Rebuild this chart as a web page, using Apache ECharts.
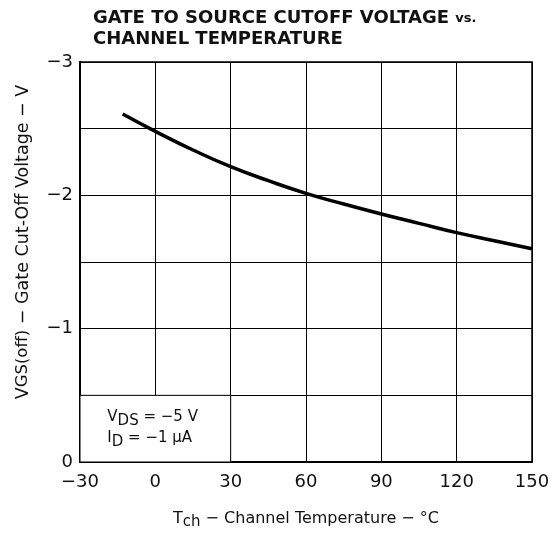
<!DOCTYPE html>
<html lang="en">
  <head>
    <meta charset="UTF-8" />
    <title>Gate to Source Cutoff Voltage vs. Channel Temperature</title>
    <script src="https://cdn.jsdelivr.net/npm/echarts@6/dist/echarts.min.js"></script>
    <style>
      html, body { margin: 0; padding: 0; background: #fff; }
      .echarts { width: 553px; height: 535px; }
    </style>
  </head>
  <body>
    <div class="echarts"></div>
    <script>
      // curve (temperature in °C, voltage in V)
      const temps = [-13, 0, 15, 30, 45, 60, 75, 90, 105, 120, 135, 150]
      const vgsOff = [-2.61, -2.48, -2.34, -2.215, -2.11, -2.015, -1.935, -1.86, -1.79, -1.72, -1.66, -1.6]
      const xTicks = [-30, 0, 30, 60, 90, 120, 150]
      const yTicks = [-3, -2, -1, 0]

      const font = '"DejaVu Sans", "Liberation Sans", sans-serif'
      const fmt = v => (v < 0 ? '\u2212' + Math.abs(v) : String(v))

      const myCharts = echarts.init(document.querySelector('.echarts'))
      const option = {
        animation: false,
        textStyle: { fontFamily: font, color: '#000' },
        title: {
          left: 88,
          top: 3,
          text: '{t|GATE TO SOURCE CUTOFF VOLTAGE }{s|vs.}\n{t|CHANNEL TEMPERATURE}',
          textStyle: {
            rich: {
              t: { fontFamily: font, fontSize: 18, fontWeight: 'bold', color: '#111', lineHeight: 21 },
              s: { fontFamily: font, fontSize: 13, fontWeight: 'bold', color: '#111', lineHeight: 21 }
            }
          }
        },
        grid: {
          left: 80, right: 21, top: 62, bottom: 72,
          show: true, borderColor: '#000', borderWidth: 1.5, backgroundColor: 'transparent'
        },
        xAxis: {
          type: 'value',
          min: xTicks[0],
          max: xTicks[xTicks.length - 1],
          interval: 30,
          name: '{n|T}{sub|ch}{n| \u2212 Channel Temperature \u2212 \u00b0C}',
          nameLocation: 'middle',
          nameGap: 45,
          nameTextStyle: {
            rich: {
              n: { fontFamily: font, fontSize: 16, color: '#111' },
              sub: { fontFamily: font, fontSize: 15, color: '#111', padding: [8, 0, 0, 0] }
            }
          },
          axisLine: { onZero: false, lineStyle: { color: '#000', width: 2 } },
          axisTick: { show: false },
          axisLabel: { fontFamily: font, fontSize: 18, color: '#111', margin: 11, formatter: fmt },
          splitLine: { lineStyle: { color: '#000', width: 1 } }
        },
        yAxis: {
          type: 'value',
          inverse: true,
          min: yTicks[0],
          max: yTicks[yTicks.length - 1],
          interval: 0.5,
          name: '{n|V}{sub|GS(off)}{n| \u2212 Gate Cut-Off Voltage \u2212 V}',
          nameLocation: 'middle',
          nameGap: 48,
          nameRotate: 90,
          nameTextStyle: {
            padding: [0, 0, 0, 40],
            rich: {
              n: { fontFamily: font, fontSize: 17.5, color: '#111' },
              sub: { fontFamily: font, fontSize: 16.5, color: '#111' }
            }
          },
          axisLine: { onZero: false, lineStyle: { color: '#000', width: 2 } },
          axisTick: { show: false },
          axisLabel: {
            fontFamily: font, fontSize: 18, color: '#111', margin: 7,
            formatter: v => (yTicks.includes(v) ? fmt(v) : '')
          },
          splitLine: { lineStyle: { color: '#000', width: 1 } }
        },
        series: [
          {
            type: 'line',
            data: temps.map((t, i) => [t, vgsOff[i]]),
            smooth: true,
            showSymbol: false,
            lineStyle: { color: '#000', width: 3.5 },
            markArea: {
              silent: true,
              itemStyle: { color: '#fff', borderColor: '#000', borderWidth: 1 },
              label: {
                position: 'inside',
                align: 'left',
                offset: [-48, -1],
                formatter: '{n|V}{sub|DS}{n| = \u22125 V}\n{n|I}{sub|D}{n| = \u22121 \u03bcA}',
                rich: {
                  n: { fontFamily: font, fontSize: 15, color: '#111', lineHeight: 21 },
                  sub: { fontFamily: font, fontSize: 15, color: '#111', lineHeight: 21, padding: [7, 0, 0, 0] }
                }
              },
              data: [[{ coord: [-30, -0.5] }, { coord: [30, 0] }]]
            }
          }
        ]
      }
      myCharts.setOption(option)
    </script>
  </body>
</html>
